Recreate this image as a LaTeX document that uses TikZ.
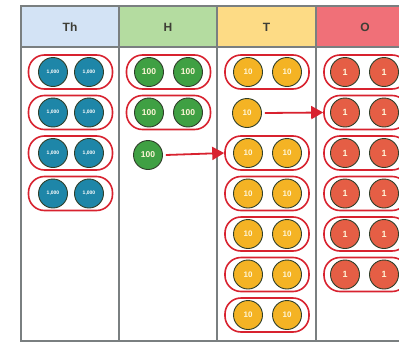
\documentclass[tikz,border=0pt]{standalone}
\usepackage{fontspec}
\setmainfont{Liberation Sans}
\usetikzlibrary{arrows.meta}
\definecolor{gridc}{HTML}{7A7F80}
\definecolor{hTh}{HTML}{D3E3F5}
\definecolor{hH}{HTML}{B4DCA0}
\definecolor{hT}{HTML}{FDDB85}
\definecolor{hO}{HTML}{F07078}
\definecolor{cTh}{HTML}{1E86A8}
\definecolor{cH}{HTML}{3FA043}
\definecolor{cT}{HTML}{F4B324}
\definecolor{cO}{HTML}{E55E45}
\definecolor{pillc}{HTML}{D8222F}
\definecolor{ringc}{HTML}{2F3F2A}
\definecolor{headtxt}{HTML}{3E3E36}
\definecolor{numtxt}{HTML}{FFF6D8}
\tikzset{
  pill/.style={draw=pillc, line width=1.6pt, rounded corners=16pt, minimum width=84pt, minimum height=34pt, inner sep=0pt},
  counter/.style={circle, draw=ringc, line width=0.9pt, minimum size=29pt, inner sep=0pt, text=numtxt, font=\fontsize{8}{8}\selectfont\bfseries},
  thc/.style={counter, fill=cTh, text=white, font=\fontsize{5}{5}\selectfont\bfseries},
  hc/.style={counter, fill=cH, font=\fontsize{8.5}{8.5}\selectfont\bfseries},
  tc/.style={counter, fill=cT},
  oc/.style={counter, fill=cO, font=\fontsize{9}{9}\selectfont\bfseries},
  grid/.style={draw=gridc, line width=1.4pt},
  headtext/.style={font=\fontsize{12}{12}\selectfont\bfseries, text=headtxt},
  conv/.style={draw=pillc, line width=1.8pt, -{Triangle[length=12pt,width=13pt]}}
}
\begin{document}
\begin{tikzpicture}[x=1pt,y=-1pt]
\useasboundingbox (0,0) rectangle (399,343);
\clip (0,0) rectangle (399,343);
\fill[white] (0,0) rectangle (399,343);
% headers
\fill[hTh] (21,6) rectangle (119,47);
\fill[hH] (119,6) rectangle (217,47);
\fill[hT] (217,6) rectangle (316,47);
\fill[hO] (316,6) rectangle (414,47);
\draw[grid] (21,6) rectangle (414,341);
\draw[grid] (21,47) -- (414,47);
\draw[grid] (119,6) -- (119,341);
\draw[grid] (217,6) -- (217,341);
\draw[grid] (316,6) -- (316,341);
\node[headtext] (hdTh) at (70,27) {Th};
\node[headtext] (hdH) at (168,27) {H};
\node[headtext] (hdT) at (266.5,27) {T};
\node[headtext] (hdO) at (365,27) {O};
% Th column
\foreach \k in {0,...,3} {
  \node[pill] (th\k) at (70.5,{72+40.5*\k}) {};
  \node[thc] (th\k a) at (53,{72+40.5*\k}) {1,000};
  \node[thc] (th\k b) at (89,{72+40.5*\k}) {1,000};
}
% H column
\foreach \k in {0,1} {
  \node[pill] (h\k) at (168.5,{72+40.5*\k}) {};
  \node[hc] (h\k a) at (149,{72+40.5*\k}) {100};
  \node[hc] (h\k b) at (188,{72+40.5*\k}) {100};
}
\node[hc] (hs) at (148,155) {100};
% T column
\node[pill] (t0) at (267,72) {};
\node[tc] (t0a) at (248,72) {10};
\node[tc] (t0b) at (287,72) {10};
\node[tc] (ts) at (247,113) {10};
\foreach \k in {2,...,6} {
  \node[pill] (t\k) at (267,{72+40.5*\k}) {};
  \node[tc] (t\k a) at (248,{72+40.5*\k}) {10};
  \node[tc] (t\k b) at (287,{72+40.5*\k}) {10};
}
% O column
\foreach \k in {0,...,5} {
  \node[pill] (o\k) at (366,{72+40.5*\k}) {};
  \node[oc] (o\k a) at (345,{72+40.5*\k}) {1};
  \node[oc] (o\k b) at (384,{72+40.5*\k}) {1};
}
% conversion arrows
\draw[conv] ([xshift=3pt]hs.east) -- (t2.west);
\draw[conv] ([xshift=3pt]ts.east) -- (o1.west);
\end{tikzpicture}
\end{document}
